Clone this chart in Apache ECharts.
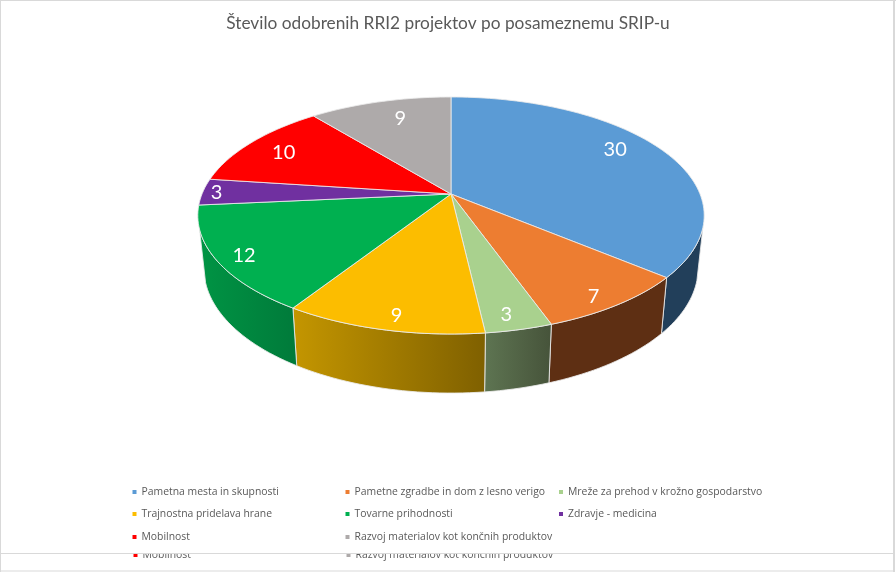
<!DOCTYPE html>
<html><head><meta charset="utf-8">
<style>html,body{margin:0;padding:0;background:#fff}#c{width:896px;height:572px}</style>
<script src="https://cdn.jsdelivr.net/npm/echarts@6/dist/echarts.min.js"></script>
</head><body><div id="c"></div>
<script>
const titleText = 'Število odobrenih RRI2 projektov po posameznemu SRIP-u';
const categories = ['Pametna mesta in skupnosti','Pametne zgradbe in dom z lesno verigo','Mreže za prehod v krožno gospodarstvo','Trajnostna pridelava hrane','Tovarne prihodnosti','Zdravje - medicina','Mobilnost','Razvoj materialov kot končnih produktov'];
const values = [30,7,3,9,12,3,10,9];
const colors = ['#5B9BD5','#ED7D31','#A9D18E','#FCBD00','#00B050','#7030A0','#FF0000','#AEAAAA'];
const wallColors = [['#223F5A','#223F5A'],['#5E2F13','#5E2F13'],['#5E7552','#46533A'],['#C49600','#7F6000'],['#009444','#007A3A'],['#3A1A55','#3A1A55'],['#800000','#800000'],['#5A5858','#5A5858']];
const labelNudge = [[-22,-5],[-1,7],[-3,4],[4,5],[-3,4],[-16,0],[10,4],[13,7]];

// projection of the pie disc
const CX=451, CY=194, A=249, B=114.6, K=0.1814, R_LABEL=0.88;
const total = values.reduce((a,b)=>a+b,0);
const starts=[]; values.reduce((acc,v,i)=>{starts[i]=acc;return acc+v;},0);
const angOf = v => v/total*360;
function rimTop(deg,r){const t=deg*Math.PI/180,u=Math.sin(t)*r,v=-Math.cos(t)*r,d=1-K*v;return [CX+A*u/d,CY+B*v/d];}
function rimBottom(deg){const p=rimTop(deg,1);return [CX+0.976*(p[0]-CX),245.5+1.054*(p[1]-CY)];}
function arc(a0,a1,fn){const pts=[],n=Math.max(2,Math.ceil(Math.abs(a1-a0)/1.5));for(let i=0;i<=n;i++)pts.push(fn(a0+(a1-a0)*i/n));return pts;}
const WALL_FROM=106, WALL_TO=253;
const edge='rgba(235,235,235,0.85)';

const wallSeries={type:'custom',name:'_walls',coordinateSystem:'none',z:3,silent:true,
  data:values.map(v=>[v]),
  renderItem(p,api){
    const i=p.dataIndex,a0=Math.max(angOf(starts[i]),WALL_FROM),a1=Math.min(angOf(starts[i]+api.value(0)),WALL_TO);
    if(a1<=a0)return {type:'group',children:[]};
    const pts=arc(a0,a1,d=>rimTop(d,1)).concat(arc(a1,a0,rimBottom));
    const c=wallColors[i];
    return {type:'polygon',shape:{points:pts},style:{lineWidth:1,stroke:edge,
      fill:{type:'linear',x:0,y:0,x2:1,y2:0,colorStops:[{offset:0,color:c[0]},{offset:1,color:c[1]}]}}};
  }};
const sliceSeries=categories.map((name,i)=>({type:'custom',name,coordinateSystem:'none',z:4+i*0.01,silent:true,
  itemStyle:{color:colors[i]},
  data:[[values[i]]],
  renderItem(p,api){
    const v=api.value(0),a0=angOf(starts[i]),a1=angOf(starts[i]+v);
    const pts=[[CX,CY]].concat(arc(a0,a1,d=>rimTop(d,1)));
    const lp=rimTop((a0+a1)/2,R_LABEL);
    return {type:'group',children:[
      {type:'polygon',shape:{points:pts},style:{fill:colors[i],stroke:edge,lineWidth:1}},
      {type:'text',z2:10,style:{text:String(v),x:lp[0]+labelNudge[i][0],y:lp[1]+labelNudge[i][1],fill:'#fff',align:'center',verticalAlign:'middle',font:'20px Lato'}}
    ]};
  }}));

const COL_X=[132.5,345.5,559], ROW_Y=[494,516,539], GHOST_Y=557;
const legendBase={orient:'horizontal',icon:'rect',itemWidth:4,itemHeight:4,selectedMode:false,padding:0,
  textStyle:{color:'#595959',fontFamily:'Open Sans',fontSize:10.4}};
const legends=categories.map((name,i)=>Object.assign({},legendBase,{z:6,data:[name],left:COL_X[i%3],top:ROW_Y[Math.floor(i/3)]-7}));
[6,7].forEach(i=>legends.push(Object.assign({},legendBase,{z:1,data:[categories[i]],left:COL_X[i%3]+1,top:GHOST_Y-7})));

const frame='#D9D9D9';
const rect=(x,y,w,h,fill,z)=>({type:'rect',z,silent:true,shape:{x,y,width:w,height:h},style:{fill}});
const chart=echarts.init(document.getElementById('c'),null,{renderer:'canvas'});
chart.setOption({
  animation:false,backgroundColor:'#fff',
  title:{text:titleText,left:'center',top:15,z:6,padding:0,textStyle:{color:'#595959',fontFamily:'Lato',fontWeight:'normal',fontSize:17.3}},
  legend:legends,
  tooltip:{show:false},
  graphic:[
    rect(1,1,893,552,'#fff',2),
    rect(0,0,896,1,frame,2),
    rect(0,0,1,572,frame,2),
    rect(893,0,2,572,frame,2),
    rect(0,553,895,1,frame,2),
    rect(0,570.5,895,1,frame,2)
  ],
  series:[wallSeries].concat(sliceSeries)
});
</script></body></html>
